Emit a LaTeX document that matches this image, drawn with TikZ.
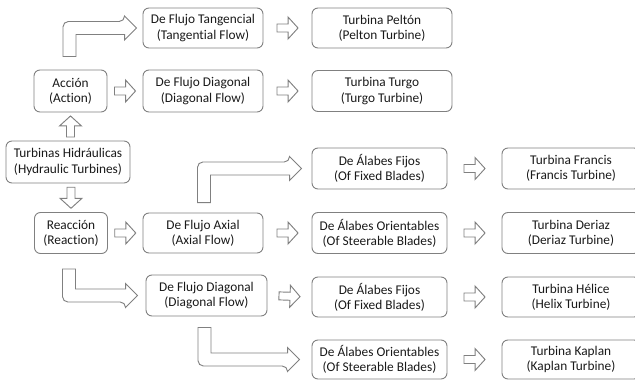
\documentclass[tikz,border=0pt]{standalone}
\usepackage{fontspec}
\setmainfont{Carlito}[Ligatures=NoCommon]
\usetikzlibrary{calc}

\definecolor{linegray}{RGB}{128,128,128}
\definecolor{textdark}{RGB}{25,25,25}

\tikzset{
  box/.style={draw=linegray, line width=0.7pt, rounded corners=4.5pt, align=center,
    text=textdark, font=\fontsize{10}{11.4}\selectfont, inner sep=0pt},
  arrowline/.style={draw=linegray, line width=0.7pt, line join=miter},
}

% straight block arrow, centred between two points
\newcommand{\blockarrow}[2]{%
  \coordinate (bm) at ($(#1)!0.5!(#2)$);
  \coordinate (bf) at ($(bm)!7.9pt!(#1)$);
  \coordinate (bt) at ($(bm)!7.9pt!(#2)$);
  \coordinate (bb) at ($(bt)!7.5pt!(bf)$);
  \draw[arrowline] ($(bf)!3pt!90:(bt)$) -- ($(bb)!3pt!90:(bt)$) -- ($(bb)!8.25pt!90:(bt)$) -- (bt)
    -- ($(bb)!8.25pt!-90:(bt)$) -- ($(bb)!3pt!-90:(bt)$) -- ($(bf)!3pt!-90:(bt)$) -- cycle;
}
% bent block arrow: vertical leg, then right (#3=-1 up, 1 down)
\newcommand{\bentarrow}[3]{%
  \coordinate (ks) at (#1);
  \coordinate (kt) at (#2);
  \coordinate (kc) at (ks |- kt);
  \draw[arrowline] ($(ks)+(-6.5,0)$) [rounded corners=4pt] -- ($(kc)+({-6.5},{(#3)*6.5})$)
    -- ($(kt)+({-12},{(#3)*6.5})$) [sharp corners] -- ($(kt)+({-12},{(#3)*12})$) -- (kt)
    -- ($(kt)+({-12},{-(#3)*12})$) -- ($(kt)+({-12},{-(#3)*6.5})$)
    -- ($(kc)+({6.5},{-(#3)*6.5})$) -- ($(ks)+(6.5,0)$) -- cycle;
}

\begin{document}
\begin{tikzpicture}[x=0.75pt,y=0.75pt,yscale=-1,xscale=1]
        \useasboundingbox (0,0) rectangle (635,381);
        \clip (0,0) rectangle (635,381);

        % Left column
        \node [box, minimum width=124*0.75pt, minimum height=42*0.75pt] (hidr) at (68,162) {Turbinas Hidráulicas\\(Hydraulic Turbines)};
        \node [box, minimum width=73*0.75pt, minimum height=42*0.75pt] (accion) at (70.5,91) {Acción\\(Action)};
        \node [box, minimum width=73*0.75pt, minimum height=41*0.75pt] (reaccion) at (71,233) {Reacción\\(Reaction)};

        % Flow type
        \node [box, minimum width=120*0.75pt, minimum height=40*0.75pt] (tang) at (203,28) {De Flujo Tangencial\\(Tangential Flow)};
        \node [box, minimum width=120*0.75pt, minimum height=42*0.75pt] (diagtop) at (203,91) {De Flujo Diagonal\\(Diagonal Flow)};
        \node [box, minimum width=120*0.75pt, minimum height=40*0.75pt] (axial) at (203,233) {De Flujo Axial\\(Axial Flow)};
        \node [box, minimum width=121*0.75pt, minimum height=41*0.75pt] (diaglow) at (206.5,295.5) {De Flujo Diagonal\\(Diagonal Flow)};

        % Blades
        \node [box, minimum width=140*0.75pt, minimum height=40*0.75pt] (pelton) at (382,28) {Turbina Peltón\\(Pelton Turbine)};
        \node [box, minimum width=140*0.75pt, minimum height=41*0.75pt] (turgo) at (382,91) {Turbina Turgo\\(Turgo Turbine)};
        \node [box, minimum width=135*0.75pt, minimum height=41*0.75pt] (fijos1) at (379.5,168.5) {De Álabes Fijos\\(Of Fixed Blades)};
        \node [box, minimum width=135*0.75pt, minimum height=41*0.75pt] (orient1) at (379.5,233) {De Álabes Orientables\\(Of Steerable Blades)};
        \node [box, minimum width=135*0.75pt, minimum height=40*0.75pt] (fijos2) at (379.5,297) {De Álabes Fijos\\(Of Fixed Blades)};
        \node [box, minimum width=135*0.75pt, minimum height=39*0.75pt] (orient2) at (379.5,359.5) {De Álabes Orientables\\(Of Steerable Blades)};

        % Turbines, right edge cut
        \node [box, minimum width=138*0.75pt, minimum height=41*0.75pt] (francis) at (571,168.5) {Turbina Francis\\(Francis Turbine)};
        \node [box, minimum width=138*0.75pt, minimum height=41*0.75pt] (deriaz) at (571,233) {Turbina Deriaz\\(Deriaz Turbine)};
        \node [box, minimum width=138*0.75pt, minimum height=40*0.75pt] (helice) at (571,297) {Turbina Hélice\\(Helix Turbine)};
        \node [box, minimum width=138*0.75pt, minimum height=39*0.75pt] (kaplan) at (571,359.5) {Turbina Kaplan\\(Kaplan Turbine)};

        % Straight arrows
        \blockarrow{hidr.north -| accion.south}{accion.south}
        \blockarrow{hidr.south -| reaccion.north}{reaccion.north}
        \blockarrow{accion.east}{diagtop.west}
        \blockarrow{reaccion.east}{axial.west}
        \blockarrow{tang.east}{pelton.west}
        \blockarrow{diagtop.east}{turgo.west}
        \blockarrow{axial.east}{orient1.west}
        \blockarrow{diaglow.east}{fijos2.west}
        \blockarrow{fijos1.east}{francis.west}
        \blockarrow{orient1.east}{deriaz.west}
        \blockarrow{fijos2.east}{helice.west}
        \blockarrow{orient2.east}{kaplan.west}

        % Bent arrows
        \bentarrow{$(accion.north)+(-1,-13)$}{$(tang.west)+(-6,0)$}{-1}
        \bentarrow{$(axial.north)+(1,-10)$}{$(fijos1.west)+(-10,0)$}{-1}
        \bentarrow{$(reaccion.south)+(-2,15)$}{$(diaglow.west)+(-8,0)$}{1}
        \bentarrow{$(diaglow.south)+(-2,11)$}{$(orient2.west)+(-12,0)$}{1}

\end{tikzpicture}
\end{document}
